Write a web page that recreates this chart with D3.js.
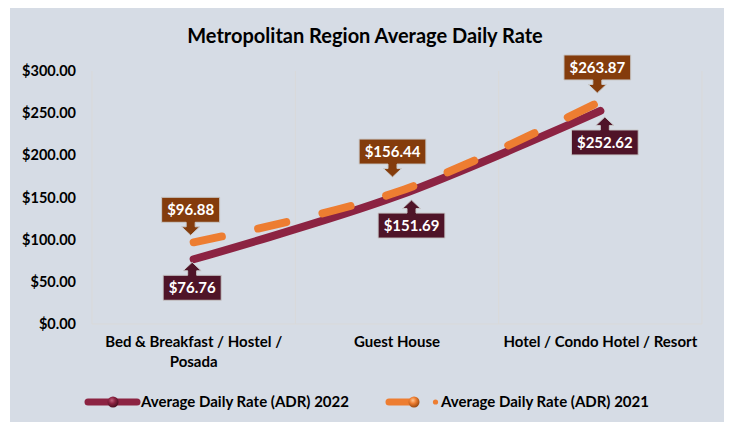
<!DOCTYPE html>
<html>
<head>
<meta charset="utf-8">
<script src="https://cdn.jsdelivr.net/npm/d3@7"></script>
<style>
  body { margin: 0; background: #fff; }
  svg { display: block; }
</style>
</head>
<body>
<div id="chart"></div>
<script>
// data
const categories = ["Bed & Breakfast / Hostel / Posada", "Guest House", "Hotel / Condo Hotel / Resort"];
const categoryLines = [["Bed & Breakfast / Hostel /", "Posada"], ["Guest House"], ["Hotel / Condo Hotel / Resort"]];
const adr2022 = [76.76, 151.69, 252.62];
const adr2021 = [96.88, 156.44, 263.87];
const yTicks = [0, 50, 100, 150, 200, 250, 300];
const seriesNames = ["Average Daily Rate (ADR) 2022", "Average Daily Rate (ADR) 2021"];
const chartTitle = "Metropolitan Region Average Daily Rate";

// where each data callout sits relative to its point (moved by hand in the original)
const callouts2021 = [{ dx: -3, dy: -7 }, { dx: -4.5, dy: -15 }, { dx: -3, dy: -8.5 }];
const callouts2022 = [{ dx: -1.5, dy: 3 }, { dx: 14.5, dy: 4 }, { dx: 4.5, dy: 6 }];

const width = 735, height = 422;
const font = "Lato, 'Open Sans', sans-serif";
const c2022 = "#8c2342", c2021 = "#ed7d31";
const box2022 = "#4f1428", box2021 = "#843c0c";

const svg = d3.select("#chart").append("svg")
  .attr("width", width)
  .attr("height", height)
  .style("font-family", font);

const defs = svg.append("defs");
function ballGradient(id, light, mid, dark) {
  const g = defs.append("radialGradient").attr("id", id)
    .attr("cx", "40%").attr("cy", "35%").attr("r", "65%");
  g.append("stop").attr("offset", "0%").attr("stop-color", light);
  g.append("stop").attr("offset", "45%").attr("stop-color", mid);
  g.append("stop").attr("offset", "100%").attr("stop-color", dark);
}
ballGradient("ball2022", "#c0607a", c2022, "#4a0f20");
ballGradient("ball2021", "#ffc48f", c2021, "#9a4a12");

// background panel
svg.append("rect")
  .attr("x", 10).attr("y", 8)
  .attr("width", 714).attr("height", 430)
  .attr("fill", "#d6dce5");

const x = d3.scalePoint().domain(categories).range([92, 702]).padding(0.5);
const y = d3.scaleLinear().domain([0, 300]).range([324, 71]);

// plot area grid: category boundaries + baseline
const step = x.step();
const bounds = categories.map(c => x(c) - step / 2).concat([x(categories[categories.length - 1]) + step / 2]);
svg.append("g")
  .selectAll("line")
  .data(bounds)
  .join("line")
  .attr("x1", d => d).attr("x2", d => d)
  .attr("y1", y(300)).attr("y2", y(0))
  .attr("stroke", "#d9d9d9")
  .attr("stroke-width", 1);
svg.append("line")
  .attr("x1", bounds[0]).attr("x2", bounds[bounds.length - 1])
  .attr("y1", y(0)).attr("y2", y(0))
  .attr("stroke", "#d9d9d9");

// title
svg.append("text")
  .attr("x", 365).attr("y", 36)
  .attr("dy", "0.35em")
  .attr("text-anchor", "middle")
  .attr("font-size", 20)
  .attr("font-weight", "bold")
  .attr("fill", "#000")
  .text(chartTitle);

// y axis labels
const yAxis = svg.append("g")
  .attr("transform", `translate(${bounds[0]},0)`)
  .call(d3.axisLeft(y).tickValues(yTicks).tickFormat(d3.format("$,.2f")).tickSize(0).tickPadding(16));
yAxis.select(".domain").remove();
yAxis.selectAll("text")
  .attr("font-family", font)
  .attr("font-size", 14.5)
  .attr("font-weight", "bold")
  .attr("fill", "#000");

// category labels
const catText = svg.append("g")
  .selectAll("text")
  .data(categories)
  .join("text")
  .attr("x", d => x(d))
  .attr("y", 347)
  .attr("dy", "0.35em")
  .attr("text-anchor", "middle")
  .attr("font-size", 15)
  .attr("font-weight", "bold")
  .attr("fill", "#000");
catText.selectAll("tspan")
  .data((d, i) => categoryLines[i].map(t => ({ t, c: d })))
  .join("tspan")
  .attr("x", d => x(d.c))
  .attr("dy", (d, i) => i === 0 ? 0 : 19.5)
  .text(d => d.t);

// lines
const line = d3.line()
  .x((d, i) => x(categories[i]))
  .y(d => y(d))
  .curve(d3.curveCatmullRom);

svg.append("path")
  .datum(adr2022)
  .attr("d", line)
  .attr("fill", "none")
  .attr("stroke", c2022)
  .attr("stroke-width", 8)
  .attr("stroke-linecap", "round");

svg.append("path")
  .datum(adr2021)
  .attr("d", line)
  .attr("fill", "none")
  .attr("stroke", c2021)
  .attr("stroke-width", 8)
  .attr("stroke-linecap", "round")
  .attr("stroke-dasharray", "29 37");

// callouts
function calloutPath(w, h, dir) {
  // tip at 0,0; dir = 1 box above (arrow down), -1 box below (arrow up)
  const stemW = 9, headW = 18, stemL = 4.5, headL = 8.5;
  const a = stemL + headL;
  const s = -dir;
  const p = [
    [-w / 2, s * (a + h)], [w / 2, s * (a + h)], [w / 2, s * a],
    [stemW / 2, s * a], [stemW / 2, s * headL], [headW / 2, s * headL],
    [0, 0],
    [-headW / 2, s * headL], [-stemW / 2, s * headL], [-stemW / 2, s * a],
    [-w / 2, s * a]
  ];
  return "M" + p.map(q => q.join(",")).join("L") + "Z";
}

function drawCallouts(values, offsets, dir, fill) {
  const g = svg.append("g")
    .selectAll("g")
    .data(values)
    .join("g")
    .attr("transform", (d, i) => `translate(${x(categories[i]) + offsets[i].dx},${y(d) + offsets[i].dy})`);
  const path = g.append("path")
    .attr("fill", fill)
    .attr("stroke", "#c8c8c8")
    .attr("stroke-width", 1);
  const txt = g.append("text")
    .attr("text-anchor", "middle")
    .attr("dy", "0.35em")
    .attr("y", -dir * (13 + 12.5))
    .attr("font-size", 15)
    .attr("font-weight", "bold")
    .attr("fill", "#fff")
    .text(d => d3.format("$,.2f")(d));
  txt.each(function () {
    const w = this.getComputedTextLength() + 11;
    d3.select(this.parentNode).select("path").attr("d", calloutPath(w, 25, dir));
  });
}
drawCallouts(adr2021, callouts2021, 1, box2021);
drawCallouts(adr2022, callouts2022, -1, box2022);

// legend
const ly = 402;
const leg = svg.append("g");
leg.append("line")
  .attr("x1", 88).attr("x2", 137).attr("y1", ly).attr("y2", ly)
  .attr("stroke", c2022).attr("stroke-width", 7).attr("stroke-linecap", "round");
leg.append("circle")
  .attr("cx", 113).attr("cy", ly).attr("r", 5.5)
  .attr("fill", "url(#ball2022)");
leg.append("text")
  .attr("x", 141).attr("y", ly).attr("dy", "0.35em")
  .attr("font-size", 15).attr("font-weight", "bold").attr("fill", "#000")
  .text(seriesNames[0]);

leg.append("line")
  .attr("x1", 389).attr("x2", 410).attr("y1", ly).attr("y2", ly)
  .attr("stroke", c2021).attr("stroke-width", 7).attr("stroke-linecap", "round");
leg.append("circle")
  .attr("cx", 414).attr("cy", ly).attr("r", 5.5)
  .attr("fill", "url(#ball2021)");
leg.append("circle")
  .attr("cx", 435.5).attr("cy", ly).attr("r", 2.6)
  .attr("fill", c2021);
leg.append("text")
  .attr("x", 441).attr("y", ly).attr("dy", "0.35em")
  .attr("font-size", 15).attr("font-weight", "bold").attr("fill", "#000")
  .text(seriesNames[1]);
</script>
</body>
</html>
